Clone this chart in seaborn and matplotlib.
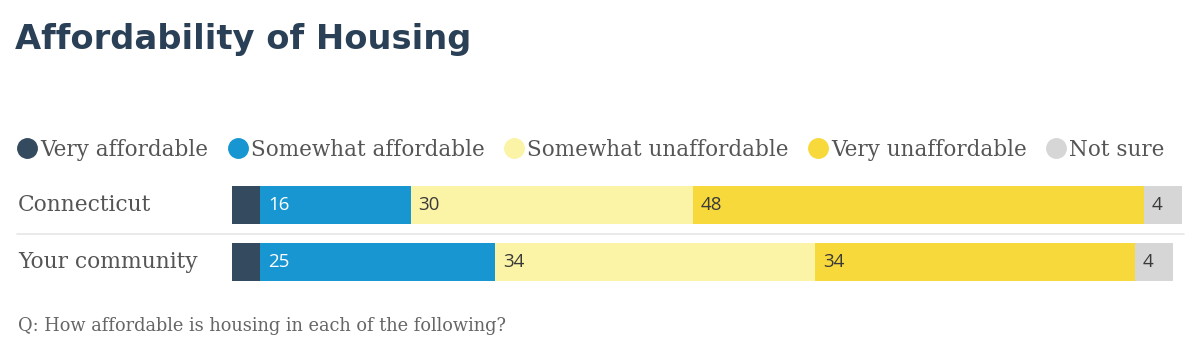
import numpy as np
import pandas as pd
import seaborn as sns
import matplotlib.pyplot as plt
from matplotlib.lines import Line2D
from matplotlib.transforms import blended_transform_factory

sns.set_style("white")

# Data
regions = ["Connecticut", "Your community"]
answers = ["Very affordable", "Somewhat affordable", "Somewhat unaffordable",
           "Very unaffordable", "Not sure"]
very_affordable = [3, 3]
somewhat_affordable = [16, 25]
somewhat_unaffordable = [30, 34]
very_unaffordable = [48, 34]
not_sure = [4, 4]

colors = ["#344a5e", "#1796d2", "#fbf3a5", "#f8d93b", "#d6d6d6"]
label_colors = [None, "white", "#3a3a3a", "#3a3a3a", "#3a3a3a"]

values = np.array([very_affordable, somewhat_affordable, somewhat_unaffordable,
                   very_unaffordable, not_sure])
cum = values.cumsum(axis=0)
starts = cum - values

fig = plt.figure(figsize=(12, 3.6), dpi=100)
ax = fig.add_axes([232 / 1200, 1 - 290.5 / 360, 950 / 1200, 114 / 360])

# stacked bars: draw cumulative totals from the largest down
for i in range(len(answers) - 1, -1, -1):
    df = pd.DataFrame({"region": regions, "value": cum[i]})
    sns.barplot(data=df, x="value", y="region", orient="h", color=colors[i],
                saturation=1, width=0.67, linewidth=0, ax=ax)

ax.set_xlim(0, 101)
ax.set_ylim(1.5, -0.5)
ax.set_xlabel("")
ax.set_ylabel("")
ax.set_xticks([])
ax.set_yticks([])
for s in ax.spines.values():
    s.set_visible(False)

# segment labels
for i in range(1, len(answers)):
    for j in range(len(regions)):
        ax.annotate(str(values[i, j]), (starts[i, j], j), xytext=(5.5, 0),
                    textcoords="offset points", ha="left", va="center",
                    fontsize=13.5, color=label_colors[i], family="Open Sans")

# category labels and separator
tr = blended_transform_factory(fig.transFigure, ax.transData)
for j, r in enumerate(regions):
    fig.text(18 / 1200, j, r, transform=tr, ha="left", va="center",
             fontsize=15.7, color="#555555", family="DejaVu Serif")
fig.add_artist(Line2D([17 / 1200, 1184 / 1200], [0.5, 0.5], transform=tr,
                      color="#e6e6e6", lw=1.2))

# legend
handles = [Line2D([], [], marker="o", ls="", markersize=14, color=c) for c in colors]
fig.legend(handles, answers, loc="center left", bbox_to_anchor=(8 / 1200, 1 - 150 / 360),
           ncol=5, frameon=False, handlelength=1.0, handletextpad=0.12,
           columnspacing=0.85, borderaxespad=0,
           prop={"family": "DejaVu Serif", "size": 15.5}, labelcolor="#555555")

fig.text(15 / 1200, 1 - 40 / 360, "Affordability of Housing", ha="left", va="center",
         fontsize=24.3, fontweight="bold", color="#2a4057", family="DejaVu Sans")
fig.text(18 / 1200, 1 - 326 / 360, "Q: How affordable is housing in each of the following?",
         ha="left", va="center", fontsize=12.8, color="#666666", family="DejaVu Serif")

fig.savefig("out.png", dpi=100, facecolor="white")
